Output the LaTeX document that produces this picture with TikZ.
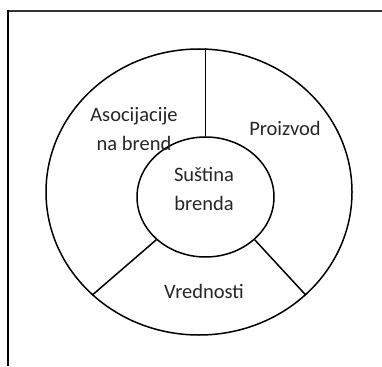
\documentclass[tikz,border=0pt]{standalone}
\usepackage{fontspec}
\setmainfont{Carlito}
\usepackage{tikz}
\usetikzlibrary{shapes.geometric}

\begin{document}
\begin{tikzpicture}[x=1pt, y=-1pt, line width=1.5pt,
  every node/.style={font=\fontsize{20.5}{29}\selectfont},
  oval/.style={draw, ellipse, inner sep=0pt},
  label/.style={align=center, text=black!85}]
\useasboundingbox (0,0) rectangle (382,366);

% frame
\draw[line width=1.2pt, black!80] (382,11) -- (8,11);
\draw[line width=1.8pt] (8,10.4) -- (8,366);

\node[oval, minimum width=306pt, minimum height=286pt] (ring) at (199,192) {};
\node[oval, minimum width=137pt, minimum height=120pt] (core) at (205.5,197) {};

\draw (core.north) -- (core.north |- ring.north);
\draw (core.221) -- (ring.224);
\draw (core.319) -- (ring.316.5);

\node[label] (assoc) at (134,129.5) {Asocijacije\\na brend};
\node[label] (prod) at (285,128) {Proizvod};
\node[label] (ess) at (204,189) {Suština\\brenda};
\node[label] (val) at (204,291) {Vrednosti};
\end{tikzpicture}
\end{document}
